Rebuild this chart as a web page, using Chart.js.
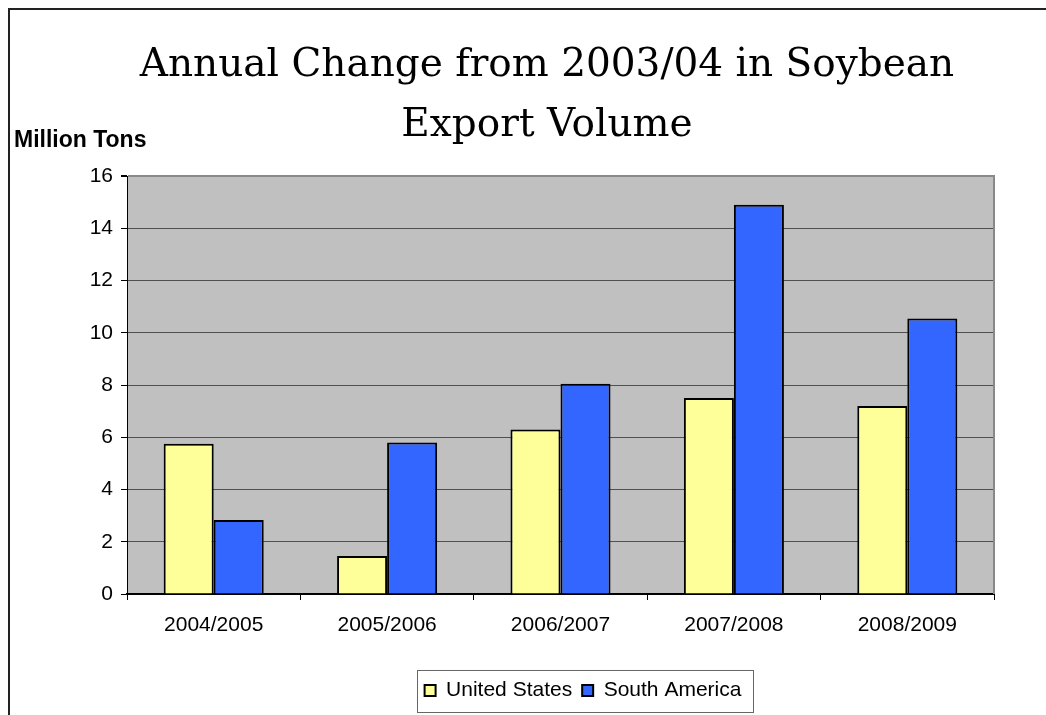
<!DOCTYPE html>
<html>
<head>
<meta charset="utf-8">
<script src="https://cdn.jsdelivr.net/npm/chart.js@4"></script>
<style>
  body { margin: 0; background: #fff; }
  #wrap { width: 1046px; height: 715px; }
</style>
</head>
<body>
<div id="wrap"><canvas id="myChart"></canvas></div>
<script>
var seasons = ['2004/2005', '2005/2006', '2006/2007', '2007/2008', '2008/2009'];
var unitedStates = [5.75, 1.45, 6.3, 7.5, 7.2];
var southAmerica = [2.83, 5.8, 8.05, 14.9, 10.55];
var yTicks = [0, 2, 4, 6, 8, 10, 12, 14, 16];
var titleLines = ['Annual Change from 2003/04 in Soybean', 'Export Volume'];
var yTitle = 'Million Tons';

Chart.defaults.font.family = '"Liberation Sans", Arial, sans-serif';
Chart.defaults.color = '#000';

// white page, dark frame, grey plot area, legend box, "Million Tons" label
var framePlugin = {
    id: 'frame',
    afterLayout: function(chart) {
        // Excel centres title and legend on its own frame, not on the plot
        chart.titleBlock.left += 50;
        chart.titleBlock.right += 50;
        chart.legend.left += 86;
        chart.legend.right += 86;
    },
    beforeDraw: function(chart) {
        var c = chart.ctx, a = chart.chartArea;
        c.save();
        c.fillStyle = '#fff';
        c.fillRect(0, 0, chart.width, chart.height);
        c.strokeStyle = '#222';
        c.lineWidth = 2;
        c.strokeRect(9, 9, chart.width + 40, chart.height + 40);
        c.fillStyle = '#c0c0c0';
        c.fillRect(a.left, a.top, a.right - a.left, a.bottom - a.top);
        c.restore();
    },
    afterDraw: function(chart) {
        var c = chart.ctx, a = chart.chartArea;
        c.save();
        c.strokeStyle = '#888';
        c.lineWidth = 2;
        c.beginPath();
        c.moveTo(a.right, a.top - 1);
        c.lineTo(a.right, a.bottom);
        c.stroke();

        var boxes = chart.legend.legendHitBoxes;
        var l = Math.min.apply(null, boxes.map(function(b) { return b.left; }));
        var r = Math.max.apply(null, boxes.map(function(b) { return b.left + b.width; }));
        var t = boxes[0].top;
        c.strokeStyle = '#666';
        c.lineWidth = 1;
        c.strokeRect(Math.round(l - 8) + 0.5, Math.round(t - 10) + 0.5, Math.round(r - l + 19), 42);

        c.fillStyle = '#000';
        c.font = 'bold 23px "Liberation Sans", Arial, sans-serif';
        c.textBaseline = 'middle';
        c.textAlign = 'left';
        c.fillText(yTitle, 14, a.top - 35);
        c.restore();
    }
};

var ctx = document.getElementById('myChart').getContext('2d');
var chart = new Chart(ctx, {
    type: 'bar',
    data: {
        labels: seasons,
        datasets: [{
            label: 'United States',
            data: unitedStates,
            backgroundColor: '#ffff99',
            borderColor: '#000',
            borderWidth: 2
        },
        {
            label: 'South America',
            data: southAmerica,
            backgroundColor: '#3366ff',
            borderColor: '#000',
            borderWidth: 2
        }]
    },
    options: {
        responsive: true,
        maintainAspectRatio: false,
        animation: false,
        categoryPercentage: 0.577,
        barPercentage: 1,
        layout: {
            padding: { top: 10, left: 0, right: 52, bottom: 4 }
        },
        plugins: {
            title: {
                display: true,
                text: titleLines,
                color: '#000',
                font: { family: '"DejaVu Serif", serif', size: 39, weight: 'normal', lineHeight: 60 / 39 },
                padding: { top: 26, bottom: 20 }
            },
            legend: {
                position: 'bottom',
                labels: {
                    boxWidth: 11,
                    boxHeight: 11,
                    padding: 10,
                    font: { size: 21 },
                    color: '#000'
                }
            },
            tooltip: { enabled: false }
        },
        scales: {
            x: {
                grid: {
                    drawOnChartArea: false,
                    drawTicks: true,
                    tickLength: 6,
                    tickColor: '#000'
                },
                border: { color: '#000', width: 2 },
                ticks: { font: { size: 21 }, padding: 13, maxRotation: 0 },
                afterFit: function(scale) { scale.height = 76; }
            },
            y: {
                min: yTicks[0],
                max: yTicks[yTicks.length - 1],
                ticks: { stepSize: yTicks[1] - yTicks[0], font: { size: 21 }, padding: 8 },
                grid: {
                    color: function(c) { return c.tick && c.tick.value === yTicks[yTicks.length - 1] ? '#888' : '#505050'; },
                    lineWidth: function(c) { return c.tick && c.tick.value === yTicks[yTicks.length - 1] ? 2 : 1; },
                    tickLength: 6,
                    tickColor: '#000'
                },
                border: { color: '#000', width: 1 },
                afterFit: function(scale) { scale.width = 127; }
            }
        }
    },
    plugins: [framePlugin]
});
</script>
</body>
</html>
